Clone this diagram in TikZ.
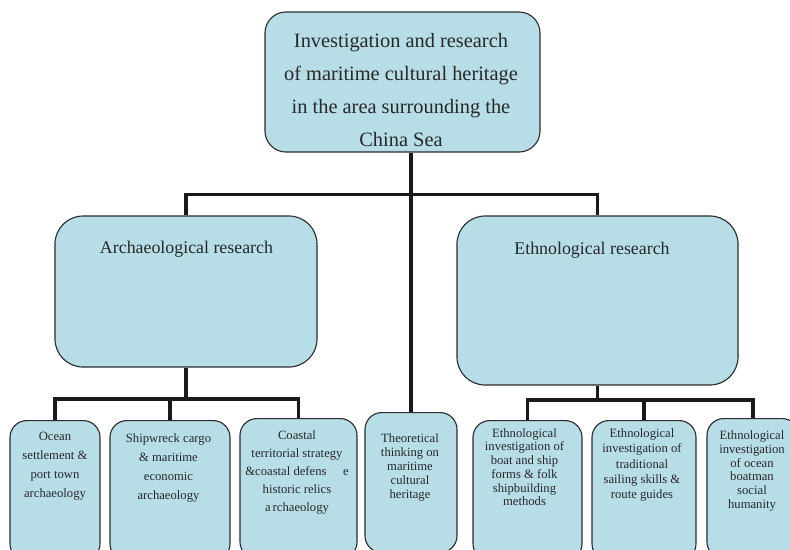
\documentclass[tikz,border=0pt]{standalone}
\usepackage{fontspec}
\setmainfont{Liberation Serif}
\usepackage{xcolor}
\definecolor{boxblue}{RGB}{183,221,231}
\definecolor{boxline}{RGB}{45,45,45}
\definecolor{txtgray}{RGB}{40,40,40}

\begin{document}
\begin{tikzpicture}[x=0.025cm, y=-0.025cm,
        box/.style={draw=boxline, fill=boxblue, rectangle, line width=0.8pt, inner sep=0pt},
        leaf/.style={box, anchor=north, rounded corners=12pt, minimum height=3.5cm},
        conn/.style={line width=2.2pt, draw=black!90},
        txt/.style={anchor=north, inner sep=0pt, align=center, text=txtgray}
    ]
    \useasboundingbox (0,0) rectangle (790,549);
    \clip (0,0) rectangle (790,549);

        % Top box
        \node[box, rounded corners=15pt, minimum width=6.875cm, minimum height=3.5cm] (top) at (402.5,82) {};
        \node[txt, font=\fontsize{14.5}{23.5}\selectfont] (toptxt) at (401,33) {Investigation and research\\of maritime cultural heritage\\in the area surrounding the\\China Sea};

        % Second level
        \node[box, rounded corners=20pt, minimum width=6.55cm, minimum height=3.775cm] (arch) at (186,291.5) {};
        \node[anchor=base, inner sep=0pt, text=txtgray, font=\fontsize{12.7}{15}\selectfont] (archtxt) at (186.5,253) {Archaeological research};
        \node[box, rounded corners=20pt, minimum width=7.025cm, minimum height=4.225cm] (eth) at (597.5,300.5) {};
        \node[anchor=base, inner sep=0pt, text=txtgray, font=\fontsize{12.7}{15}\selectfont] (ethtxt) at (592,254) {Ethnological research};

        % Archaeological leaves
        \node[leaf, minimum width=2.25cm] (ocean) at (55,420) {};
        \node[txt, font=\fontsize{9}{13.5}\selectfont] (oceantxt) at (55,432) {Ocean\\settlement \&\\port town\\archaeology};
        \node[leaf, minimum width=3cm] (ship) at (170,420) {};
        \node[txt, font=\fontsize{9}{13.5}\selectfont] (shiptxt) at (168.5,433) {Shipwreck cargo\\\& maritime\\economic\\archaeology};
        \node[leaf, minimum width=2.925cm] (coast) at (298.5,418) {};
        \node[txt, font=\fontsize{9}{12.8}\selectfont] (coasttxt) at (297,430.5) {Coastal\\territorial strategy\\\&coastal defens\hspace{1.3em}e\\historic relics\\a\,rchaeology};

        % Middle leaf
        \node[leaf, minimum width=2.3cm] (theo) at (411,412) {};
        \node[txt, font=\fontsize{9}{10}\selectfont] (theotxt) at (410,433) {Theoretical\\thinking on\\maritime\\cultural\\heritage};

        % Ethnological leaves
        \node[leaf, minimum width=2.725cm] (boat) at (527.5,420) {};
        \node[txt, font=\fontsize{9}{9.8}\selectfont] (boattxt) at (524.5,428) {Ethnological\\investigation of\\boat and ship\\forms \& folk\\shipbuilding\\methods};
        \node[leaf, minimum width=2.6cm] (sail) at (644,420) {};
        \node[txt, font=\fontsize{9}{11}\selectfont] (sailtxt) at (642,428) {Ethnological\\investigation of\\traditional\\sailing skills \&\\route guides};
        \node[leaf, minimum width=2.3cm] (boatman) at (753,418) {};
        \node[txt, font=\fontsize{9}{9.8}\selectfont] (mantxt) at (752,430.5) {Ethnological\\investigation\\of ocean\\boatman\\social\\humanity};

        % Connectors
        \draw[conn] (top.south -| theo.north) -- (theo.north);
        \draw[conn] (arch.north) -- ++(0,-21) -| (eth.north);
        \draw[conn] (arch.south) -- ++(0,32);
        \draw[conn] (ocean.north) -- ++(0,-21) -| (coast.north);
        \draw[conn] (ship.north) -- ++(0,-21);
        \draw[conn] (eth.south) -- ++(0,15);
        \draw[conn] (boat.north) -- ++(0,-20) -| (boatman.north);
        \draw[conn] (sail.north) -- ++(0,-20);

    \end{tikzpicture}
\end{document}
